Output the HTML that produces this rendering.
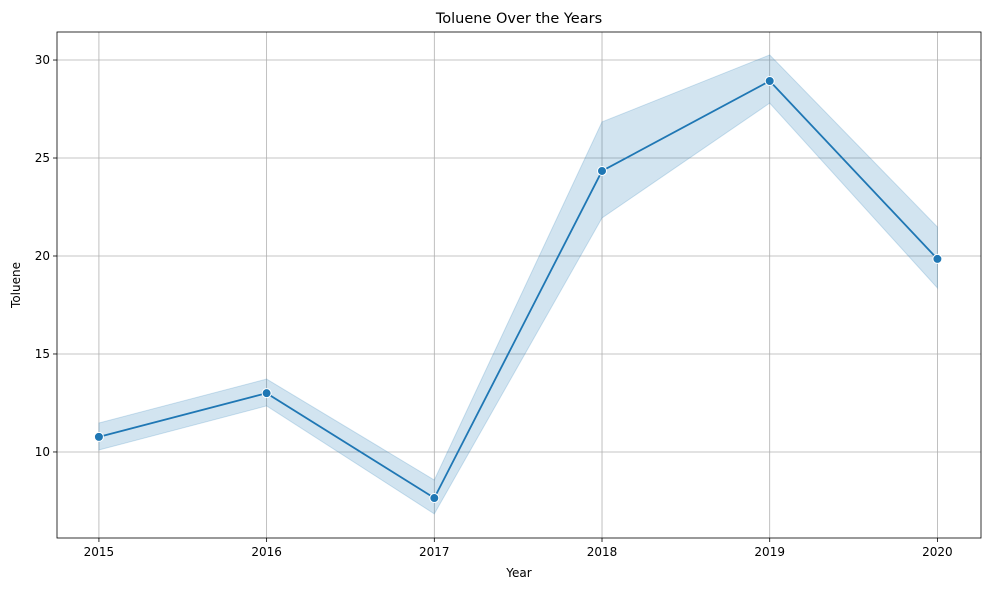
<!DOCTYPE html>
<html><head><meta charset="utf-8"><style>
body{margin:0;background:#fff;font-family:"Liberation Sans","DejaVu Sans",sans-serif}
text{font-family:"DejaVu Sans","Liberation Sans",sans-serif}
</style></head><body>
<svg id="chart" width="989" height="590"></svg>
<script>
const years=[2015,2016,2017,2018,2019,2020];
const meanValues=[10.77,13.0,7.65,24.34,28.93,19.85];
const upperValues=[11.48,13.72,8.57,26.84,30.26,21.48];
const lowerValues=[10.1,12.35,6.84,21.94,27.8,18.37];
const yTicks=[10,15,20,25,30];
const L=57,R=981,T=32,B=538;
const xMin=2014.75,xMax=2020.26,yMin=5.61,yMax=31.43;
const sx=v=>L+(v-xMin)/(xMax-xMin)*(R-L);
const sy=v=>B-(v-yMin)/(yMax-yMin)*(B-T);
const svg=document.getElementById('chart');
const NS='http://www.w3.org/2000/svg';
function mk(tag,attrs,txt){const e=document.createElementNS(NS,tag);for(const k in attrs)e.setAttribute(k,attrs[k]);if(txt!==undefined)e.textContent=txt;svg.appendChild(e);return e;}
// grid
years.forEach(y=>{const g=mk('line',{x1:sx(y),x2:sx(y),y1:T,y2:B,stroke:'#b0b0b0','stroke-width':0.8});

});
yTicks.forEach(v=>{const g=mk('line',{x1:L,x2:R,y1:sy(v),y2:sy(v),stroke:'#b0b0b0','stroke-width':0.8});

});
// band
let pts=years.map((y,i)=>sx(y)+','+sy(upperValues[i]));
pts=pts.concat(years.map((y,i)=>sx(y)+','+sy(lowerValues[i])).reverse());
const band=mk('polygon',{points:pts.join(' '),fill:'#1f77b4','fill-opacity':0.2,stroke:'#1f77b4','stroke-opacity':0.2});


const line=mk('polyline',{points:years.map((y,i)=>sx(y)+','+sy(meanValues[i])).join(' '),fill:'none',stroke:'#1f77b4','stroke-width':1.8});


years.forEach((y,i)=>{const c=mk('circle',{cx:sx(y),cy:sy(meanValues[i]),r:4.5,fill:'#1f77b4',stroke:'#fff','stroke-width':1});

});
// axes frame
const fr=mk('rect',{x:L,y:T,width:R-L,height:B-T,fill:'none',stroke:'#000','stroke-width':0.8});


years.forEach(y=>{mk('line',{x1:sx(y),x2:sx(y),y1:B,y2:B+4,stroke:'#000','stroke-width':0.8});
const t=mk('text',{x:sx(y),y:B+18,'text-anchor':'middle','font-size':12},y);

});
yTicks.forEach(v=>{mk('line',{x1:L-4,x2:L,y1:sy(v),y2:sy(v),stroke:'#000','stroke-width':0.8});
const t=mk('text',{x:L-7,y:sy(v)+4,'text-anchor':'end','font-size':12},v);

});
const xt=mk('text',{x:(L+R)/2,y:577,'text-anchor':'middle','font-size':12},'Year');


const yt=mk('text',{x:20,y:(T+B)/2,'text-anchor':'middle','font-size':12,transform:'rotate(-90 20 '+(T+B)/2+')'},'Toluene');


const tt=mk('text',{x:(L+R)/2,y:23,'text-anchor':'middle','font-size':14.5},'Toluene Over the Years');


</script>
</body></html>
